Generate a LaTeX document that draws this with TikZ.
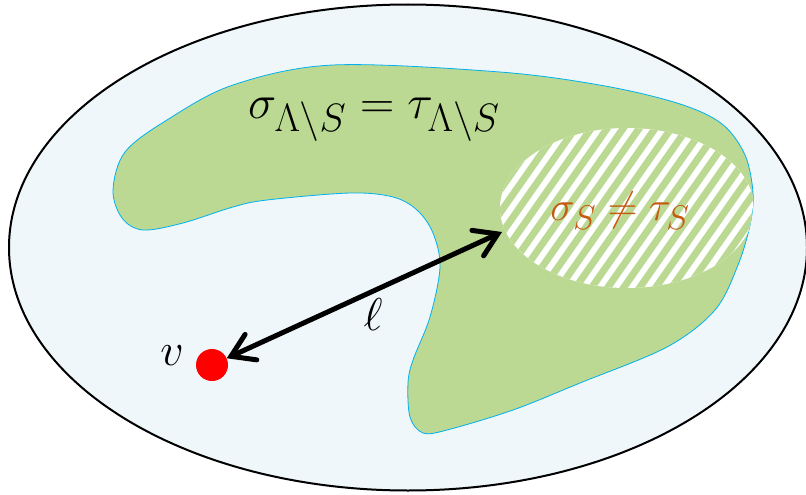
\documentclass[tikz,border=0pt]{standalone}
\usetikzlibrary{arrows.meta}
\definecolor{bgblue}{RGB}{239,247,251}
\definecolor{lgreen}{RGB}{187,217,146}
\definecolor{edgeblue}{RGB}{0,176,240}
\definecolor{txtorange}{RGB}{197,90,17}
\begin{document}
\begin{tikzpicture}[x=1pt,y=-1pt,
  lab/.style={inner sep=0pt, anchor=base, font=\Huge},
  barb/.style={line width=5pt, line cap=round,
    {Straight Barb[length=22pt,width=28pt,line cap=round]}-{Straight Barb[length=22pt,width=28pt,line cap=round]}}]
\useasboundingbox (0,0) rectangle (806,495);
\clip (0,0) rectangle (806,495);
% outer domain
\draw[line width=2pt, fill=bgblue] (408,247.5) ellipse [x radius=399, y radius=243];
% green region
\path[save path=\greenP, fill=lgreen, draw=edgeblue, line width=0.8pt]
  plot[smooth cycle, tension=0.55] coordinates {
  (113,190) (125,152) (167,120) (233,85) (333,65) (500,72) (605,86)
  (680,104) (722,124) (745,155) (753,193) (750,225) (738,265) (715,310)
  (667,347) (580,383) (513,410) (447,430) (423,433) (410,417) (408,383)
  (413,360) (430,317) (440,267) (433,233) (417,210) (393,197) (350,193)
  (267,200) (233,207) (183,223) (143,230) (122,218)};
% hatched region S
\begin{scope}
  \clip[use path=\greenP];
  \clip (627,208) ellipse [x radius=127, y radius=80];
  \fill[white] (480,100) rectangle (790,320);
  \foreach \k in {-10,...,22}
    \draw[lgreen, line width=7pt] ({450+16*\k},330) -- ({611+16*\k},100);
\end{scope}
% vertex and distance arrow
\node[circle, fill=red, minimum size=32pt, inner sep=0pt] (v) at (212,365) {};
\coordinate (t) at (502,232);
\draw[barb] (v) -- (t);
% labels
\node[lab, scale=1.91] (l1) at (374,118) {$\sigma_{\Lambda\setminus S}=\tau_{\Lambda\setminus S}$};
\node[lab, scale=1.65, text=txtorange] (l2) at (620,220) {$\sigma_S\neq\tau_S$};
\node[lab, scale=1.85] (lv) at (172,365) {$v$};
\node[lab, scale=1.85] (ll) at (373,330) {$\ell$};
\end{tikzpicture}
\end{document}
